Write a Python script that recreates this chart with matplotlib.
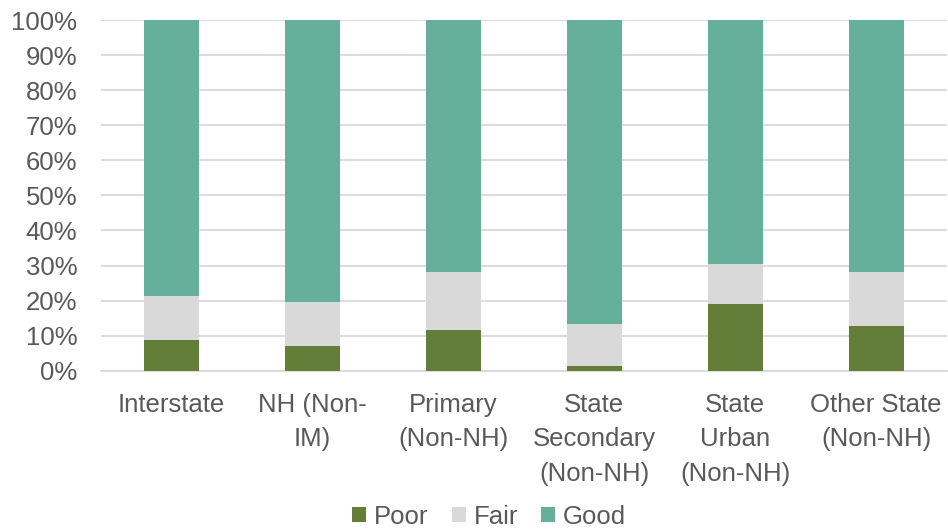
import numpy as np
import matplotlib
matplotlib.use("Agg")
import matplotlib.pyplot as plt

plt.rcParams['font.family'] = ['Liberation Sans', 'DejaVu Sans']

categories = ["Interstate", "NH (Non-\nIM)", "Primary\n(Non-NH)",
              "State\nSecondary\n(Non-NH)", "State\nUrban\n(Non-NH)",
              "Other State\n(Non-NH)"]
poor = [8.7, 7.0, 11.5, 1.3, 18.9, 12.7]
fair = [12.5, 12.6, 16.6, 11.9, 11.4, 15.4]
good = [100 - p - f for p, f in zip(poor, fair)]

c_poor = "#637E38"
c_fair = "#D9D9D9"
c_good = "#65AF9B"
txt = "#595959"

fig = plt.figure(figsize=(9.48, 5.31), dpi=100)
ax = fig.add_axes([0.1065, 0.302, 0.892, 0.660])

x = np.arange(len(categories))
w = 0.39
ax.bar(x, poor, w, color=c_poor, label="Poor", zorder=3)
ax.bar(x, fair, w, bottom=poor, color=c_fair, label="Fair", zorder=3)
ax.bar(x, good, w, bottom=np.array(poor) + np.array(fair), color=c_good,
       label="Good", zorder=3)

ax.set_xlim(-0.5, len(categories) - 0.5)
ax.set_ylim(0, 100)
ax.set_yticks(np.arange(0, 101, 10))
ax.set_yticklabels([f"{v}%" for v in range(0, 101, 10)])
ax.yaxis.grid(True, color="#D9D9D9", lw=1.3, zorder=0)
ax.set_xticks(x)
ax.set_xticklabels(categories, linespacing=1.55, va="top")
ax.tick_params(axis="y", length=0, pad=17, labelsize=18.5, labelcolor=txt)
ax.tick_params(axis="x", length=0, pad=16, labelsize=18.5, labelcolor=txt)
for s in ["top", "right", "left"]:
    ax.spines[s].set_visible(False)
ax.spines["bottom"].set_color("#D9D9D9")
ax.spines["bottom"].set_linewidth(1.3)

leg = fig.legend(loc="center", bbox_to_anchor=(0.516, 0.027), ncol=3, frameon=False,
                 fontsize=18.5, handlelength=0.55, handleheight=0.55,
                 handletextpad=0.3, columnspacing=0.9)
for t in leg.get_texts():
    t.set_color(txt)

fig.savefig("out.png", dpi=100)
